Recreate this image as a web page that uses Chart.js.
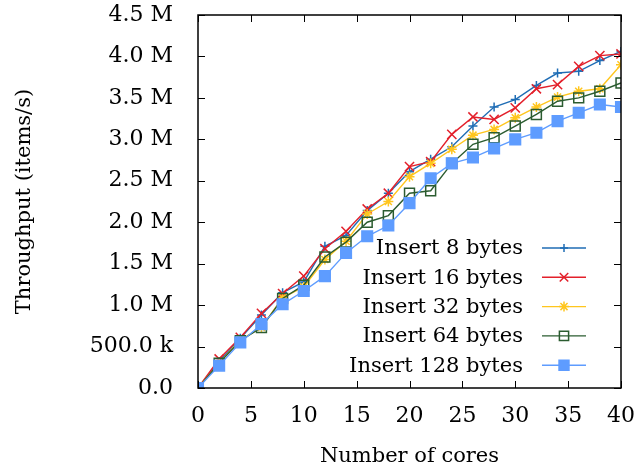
<!DOCTYPE html>
<html>
<head>
<meta charset="utf-8">
<title>Throughput vs cores</title>
<script src="https://cdn.jsdelivr.net/npm/chart.js@4.4.0/dist/chart.umd.min.js"></script>
<style>
    html, body { margin: 0; padding: 0; background: #fff; }
    #wrap { width: 644px; height: 472px; position: relative; }
</style>
</head>
<body>
<div id="wrap"><canvas id="chart"></canvas></div>
<script>
// Data (throughput in millions of items/s)
const cores = [0, 2, 4, 6, 8, 10, 12, 14, 16, 18, 20, 22, 24, 26, 28, 30, 32, 34, 36, 38, 40];
const insert8   = [0, 0.32, 0.60, 0.88, 1.15, 1.28, 1.71, 1.84, 2.14, 2.35, 2.61, 2.76, 2.91, 3.16, 3.39, 3.48, 3.65, 3.80, 3.82, 3.95, 4.06];
const insert16  = [0, 0.35, 0.61, 0.90, 1.14, 1.35, 1.68, 1.89, 2.16, 2.35, 2.67, 2.73, 3.06, 3.27, 3.24, 3.38, 3.61, 3.66, 3.88, 4.01, 4.03];
const insert32  = [0, 0.30, 0.58, 0.73, 1.09, 1.22, 1.55, 1.77, 2.10, 2.25, 2.55, 2.71, 2.88, 3.05, 3.12, 3.26, 3.39, 3.51, 3.58, 3.61, 3.90];
const insert64  = [0, 0.30, 0.57, 0.73, 1.08, 1.24, 1.58, 1.76, 2.00, 2.08, 2.35, 2.38, 2.71, 2.94, 3.02, 3.16, 3.30, 3.46, 3.50, 3.58, 3.68];
const insert128 = [0, 0.27, 0.55, 0.77, 1.01, 1.17, 1.35, 1.63, 1.83, 1.96, 2.23, 2.53, 2.71, 2.78, 2.89, 3.00, 3.08, 3.22, 3.32, 3.42, 3.39];

const seriesLabels = ['Insert 8 bytes', 'Insert 16 bytes', 'Insert 32 bytes', 'Insert 64 bytes', 'Insert 128 bytes'];
const yTickLabels = ['0.0', '500.0 k', '1.0 M', '1.5 M', '2.0 M', '2.5 M', '3.0 M', '3.5 M', '4.0 M', '4.5 M'];
const xTitle = 'Number of cores';
const yTitle = 'Throughput (items/s)';

const FONT = '"DejaVu Serif", serif';

// radius = marker on the plot, legendRadius = marker in the key
const styles = [
    { color: '#1f6db5', fill: '#1f6db5', pointStyle: 'cross',    radius: 4.5, legendRadius: 4 },
    { color: '#e3202b', fill: '#e3202b', pointStyle: 'crossRot', radius: 6.5, legendRadius: 6 },
    { color: '#ffc61e', fill: '#ffc61e', pointStyle: 'star',     radius: 5,   legendRadius: 5 },
    { color: '#2b5c30', fill: 'rgba(0,0,0,0)', pointStyle: 'rect', radius: 7, legendRadius: 6.5 },
    { color: '#5e9cff', fill: '#5e9cff', pointStyle: 'rect',     radius: 7.5, legendRadius: 7 }
];

const seriesValues = [insert8, insert16, insert32, insert64, insert128];

const datasets = seriesValues.map((vals, i) => ({
    label: seriesLabels[i],
    data: cores.map((c, j) => ({ x: c, y: vals[j] })),
    borderColor: styles[i].color,
    backgroundColor: styles[i].fill,
    pointBackgroundColor: styles[i].fill,
    pointBorderColor: styles[i].color,
    pointStyle: styles[i].pointStyle,
    pointRadius: styles[i].radius,
    pointBorderWidth: 1.5,
    borderWidth: 1.4,
    fill: false,
    tension: 0,
    order: seriesValues.length - i
}));

// Frame, inward ticks, legend and axis titles (gnuplot look)
const framePlugin = {
    id: 'frame',
    afterDatasetsDraw(chart) {
        const ctx = chart.ctx;
        const a = chart.chartArea;
        const xs = chart.scales.x;
        const ys = chart.scales.y;
        const tick = 7;

        ctx.save();
        ctx.strokeStyle = '#000';
        ctx.lineWidth = 1;
        ctx.beginPath();
        ys.ticks.forEach(t => {
            const y = Math.round(ys.getPixelForValue(t.value)) + 0.5;
            ctx.moveTo(a.left, y); ctx.lineTo(a.left + tick, y);
            ctx.moveTo(a.right, y); ctx.lineTo(a.right - tick, y);
        });
        xs.ticks.forEach(t => {
            const x = Math.round(xs.getPixelForValue(t.value)) + 0.5;
            ctx.moveTo(x, a.bottom); ctx.lineTo(x, a.bottom - tick);
            ctx.moveTo(x, a.top); ctx.lineTo(x, a.top + tick);
        });
        ctx.stroke();

        ctx.lineWidth = 1.5;
        ctx.strokeRect(a.left, a.top, a.right - a.left, a.bottom - a.top);

        // Legend
        const textRight = 523, lineL = 542, lineR = 586, rowTop = 248, rowGap = 29.3;
        ctx.font = '21px ' + FONT;
        ctx.textAlign = 'right';
        ctx.textBaseline = 'middle';
        seriesLabels.forEach((label, i) => {
            const y = rowTop + i * rowGap;
            ctx.fillStyle = '#000';
            ctx.fillText(label, textRight, y + 1);
            ctx.strokeStyle = styles[i].color;
            ctx.lineWidth = 1.4;
            ctx.beginPath();
            ctx.moveTo(lineL, y); ctx.lineTo(lineR, y);
            ctx.stroke();
            ctx.fillStyle = styles[i].fill;
            ctx.lineWidth = 1.5;
            Chart.helpers.drawPoint(ctx, {
                pointStyle: styles[i].pointStyle,
                radius: styles[i].legendRadius,
                rotation: 0,
                borderWidth: 1.5
            }, (lineL + lineR) / 2, y);
        });

        // Axis titles
        ctx.fillStyle = '#000';
        ctx.font = '21px ' + FONT;
        ctx.textAlign = 'center';
        ctx.textBaseline = 'middle';
        ctx.fillText(xTitle, (a.left + a.right) / 2, 457);
        ctx.translate(25, (a.top + a.bottom) / 2);
        ctx.rotate(-Math.PI / 2);
        ctx.fillText(yTitle, 0, 0);
        ctx.restore();
    }
};

new Chart(document.getElementById('chart'), {
    type: 'line',
    data: { datasets },
    options: {
        responsive: true,
        maintainAspectRatio: false,
        animation: false,
        layout: { padding: { top: 15, right: 23, left: 0, bottom: 0 } },
        plugins: {
            legend: { display: false },
            tooltip: { enabled: false }
        },
        scales: {
            x: {
                type: 'linear',
                min: 0,
                max: 40,
                grid: { display: false },
                border: { display: false },
                ticks: {
                    stepSize: 5,
                    color: '#000',
                    padding: 7,
                    maxRotation: 0,
                    font: { family: FONT, size: 22 }
                },
                afterFit(scale) {
                    scale.height = 84;
                    scale.paddingLeft = 0;
                    scale.paddingRight = 0;
                }
            },
            y: {
                type: 'linear',
                min: 0,
                max: 4.5,
                grid: { display: false },
                border: { display: false },
                ticks: {
                    stepSize: 0.5,
                    color: '#000',
                    padding: 17,
                    font: { family: FONT, size: 22 },
                    callback: (v, i) => yTickLabels[i]
                },
                afterFit(scale) {
                    scale.width = 198;
                    scale.paddingTop = 0;
                    scale.paddingBottom = 0;
                }
            }
        }
    },
    plugins: [framePlugin]
});
</script>
</body>
</html>
